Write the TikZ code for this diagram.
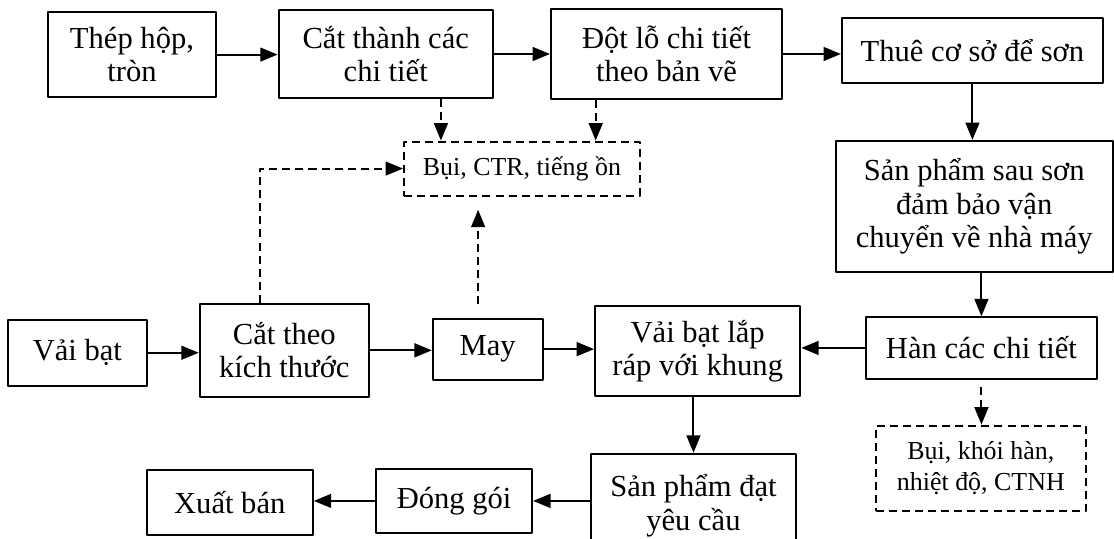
\documentclass[tikz,border=0pt]{standalone}
\usepackage{fontspec}
\setmainfont{Liberation Serif}
\usetikzlibrary{arrows.meta}

\begin{document}
\begin{tikzpicture}[font=\fontsize{14.5}{15.8}\selectfont, line join=round, >={Triangle[length=2.9mm,width=2.3mm]},
	hop/.style={draw, line width=0.95pt, align=center, inner sep=2pt},
	hopnet/.style={hop, dash pattern=on 3.8pt off 2.4pt, font=\fontsize{12.3}{14.6}\selectfont},
	muiten/.style={->, line width=0.95pt},
	muitennet/.style={muiten, dash pattern=on 3.8pt off 2.4pt}]
	\useasboundingbox (0,0) rectangle (18.57,8.98);
	% Gia công khung thép
	\node[hop, minimum width=2.8cm, minimum height=1.43cm] (thep) at (2.2,8.07) {Thép hộp,\\tròn};
	\node[hop, minimum width=3.57cm, minimum height=1.48cm] (catct) at (6.43,8.08) {Cắt thành các\\chi tiết};
	\node[hop, minimum width=3.85cm, minimum height=1.5cm] (dotlo) at (11.11,8.08) {Đột lỗ chi tiết\\theo bản vẽ};
	\node[hop, minimum width=4.35cm, minimum height=1.08cm] (thuecs) at (16.21,8.14) {Thuê cơ sở để sơn};
	\node[hop, minimum width=4.62cm, minimum height=2.18cm] (spsau) at (16.24,5.54) {Sản phẩm sau sơn\\đảm bảo vận\\chuyển về nhà máy};
	\node[hop, minimum width=3.85cm, minimum height=1.02cm] (han) at (16.36,3.18) {Hàn các chi tiết};
	% Gia công vải bạt
	\node[hop, minimum width=2.32cm, minimum height=1.1cm] (vai) at (1.29,3.1) {Vải bạt};
	\node[hop, minimum width=2.82cm, minimum height=1.55cm] (catkt) at (4.74,3.14) {Cắt theo\\kích thước};
	\node[hop, minimum width=1.83cm, minimum height=1.02cm] (may) at (8.13,3.16) {May};
	\node[hop, minimum width=3.42cm, minimum height=1.5cm] (laprap) at (11.63,3.13) {Vải bạt lắp\\ráp với khung};
	\node[hop, minimum width=3.42cm, minimum height=1.73cm] (spdat) at (11.56,0.55) {Sản phẩm đạt\\yêu cầu};
	\node[hop, minimum width=2.6cm, minimum height=1.08cm] (donggoi) at (7.57,0.63) {Đóng gói};
	\node[hop, minimum width=2.77cm, minimum height=1.08cm] (xuatban) at (3.83,0.61) {Xuất bán};
	% Chất thải
	\node[hopnet, minimum width=3.93cm, minimum height=0.9cm] (bui1) at (8.7,6.17) {Bụi, CTR, tiếng ồn};
	\node[hopnet, minimum width=3.5cm, minimum height=1.43cm] (bui2) at (16.35,1.17) {Bụi, khói hàn,\\nhiệt độ, CTNH};
	
	\coordinate (c1) at (7.35,0);
	\coordinate (c2) at (9.93,0);
	\coordinate (c3) at (4.33,0);
	\coordinate (c4) at (7.97,0);
	
	\draw[muiten] (thep.east) -- (thep.east -| catct.west);
	\draw[muiten] (catct.east) -- (catct.east -| dotlo.west);
	\draw[muiten] (dotlo.east) -- (dotlo.east -| thuecs.west);
	\draw[muiten] (thuecs.south) -- (thuecs.south |- spsau.north);
	\draw[muiten] (spsau.south -| han.north) -- (han.north);
	\draw[muiten] (han.west) -- (han.west -| laprap.east);
	\draw[muiten] (vai.east) -- (vai.east -| catkt.west);
	\draw[muiten] (catkt.east) -- (catkt.east -| may.west);
	\draw[muiten] (may.east) -- (may.east -| laprap.west);
	\draw[muiten] (laprap.south -| spdat.north) -- (spdat.north);
	\draw[muiten] (donggoi.east -| spdat.west) -- (donggoi.east);
	\draw[muiten] (donggoi.west) -- (donggoi.west -| xuatban.east);
	
	\draw[muitennet] (catct.south -| c1) -- (bui1.north -| c1);
	\draw[muitennet] (dotlo.south -| c2) -- (bui1.north -| c2);
	\draw[muitennet] (catkt.north -| c3) |- (bui1.west);
	\draw[muitennet, shorten <=0.22cm, shorten >=0.22cm] (may.north -| c4) -- (bui1.south -| c4);
	\draw[muitennet, shorten <=0.13cm] (han.south) -- (han.south |- bui2.north);
\end{tikzpicture}
\end{document}
